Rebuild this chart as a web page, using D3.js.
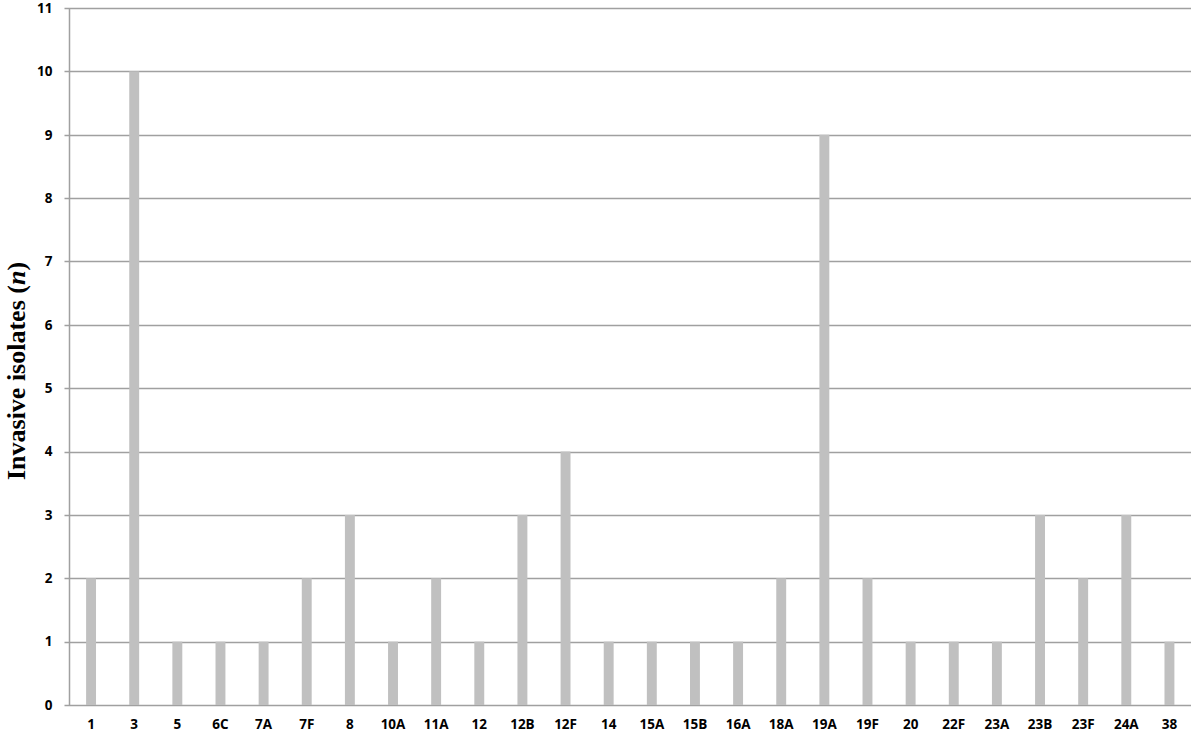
<!DOCTYPE html>
<html>
<head>
<meta charset="utf-8">
<script src="https://cdn.jsdelivr.net/npm/d3@7"></script>
<style>
  body { margin: 0; background: #fff; }
  svg { display: block; }
  .tick text { font-family: "Open Sans", "Liberation Sans", sans-serif; font-weight: bold; font-size: 13.5px; fill: #000; }
</style>
</head>
<body>
<div id="chart"></div>
<script>
'use strict';

const serotypes = ["1", "3", "5", "6C", "7A", "7F", "8", "10A", "11A", "12", "12B", "12F", "14",
    "15A", "15B", "16A", "18A", "19A", "19F", "20", "22F", "23A", "23B", "23F", "24A", "38"];
const isolates = [2, 10, 1, 1, 1, 2, 3, 1, 2, 1, 3, 4, 1, 1, 1, 1, 2, 9, 2, 1, 1, 1, 3, 2, 3, 1];
const yTicks = [0, 1, 2, 3, 4, 5, 6, 7, 8, 9, 10, 11];

const width = 1191, height = 734;
const margin = {top: 8, right: 0, bottom: 29, left: 69.5};

const svg = d3.select('#chart')
    .append('svg')
    .attr('width', width)
    .attr('height', height);

const x = d3.scaleBand()
    .domain(serotypes)
    .range([margin.left, width - margin.right])
    .paddingInner(0.77)
    .paddingOuter(0.385);

const y = d3.scaleLinear()
    .domain([0, 11])
    .range([height - margin.bottom, margin.top]);

// gridlines
svg.append('g')
    .selectAll('line')
    .data(yTicks)
    .enter()
    .append('line')
        .attr('x1', margin.left - 5)
        .attr('x2', width)
        .attr('y1', d => Math.round(y(d)) + 0.5)
        .attr('y2', d => Math.round(y(d)) + 0.5)
        .style('stroke', '#a0a0a0')
        .style('stroke-width', 1.3);

// bars
svg.append('g')
    .selectAll('rect')
    .data(serotypes)
    .enter()
    .append('rect')
        .attr('x', (d, i) => x(d))
        .attr('width', x.bandwidth())
        .attr('y', (d, i) => y(isolates[i]))
        .attr('height', (d, i) => y(0) - y(isolates[i]))
        .style('fill', '#c0c0c0');

// y axis
const yAxis = svg.append('g')
    .attr('transform', `translate(${margin.left},0)`)
    .call(d3.axisLeft(y).tickValues(yTicks).tickFormat(d3.format('d')).tickSize(0).tickPadding(17));
yAxis.select('.domain')
    .attr('d', `M0,${margin.top}V${height - margin.bottom}`)
    .style('stroke', '#a0a0a0')
    .style('stroke-width', 1.5);

// x axis labels
const xAxis = svg.append('g')
    .attr('transform', `translate(0,${height - margin.bottom})`)
    .call(d3.axisBottom(x).tickSize(0).tickPadding(14));
xAxis.select('.domain').remove();

// axis title
svg.append('text')
    .attr('transform', 'translate(25,371) rotate(-90)')
    .attr('text-anchor', 'middle')
    .style('font-family', '"Liberation Serif", "DejaVu Serif", serif')
    .style('font-weight', 'bold')
    .style('font-size', '26px')
    .html('Invasive isolates (<tspan font-style="italic">n</tspan>)');
</script>
</body>
</html>
